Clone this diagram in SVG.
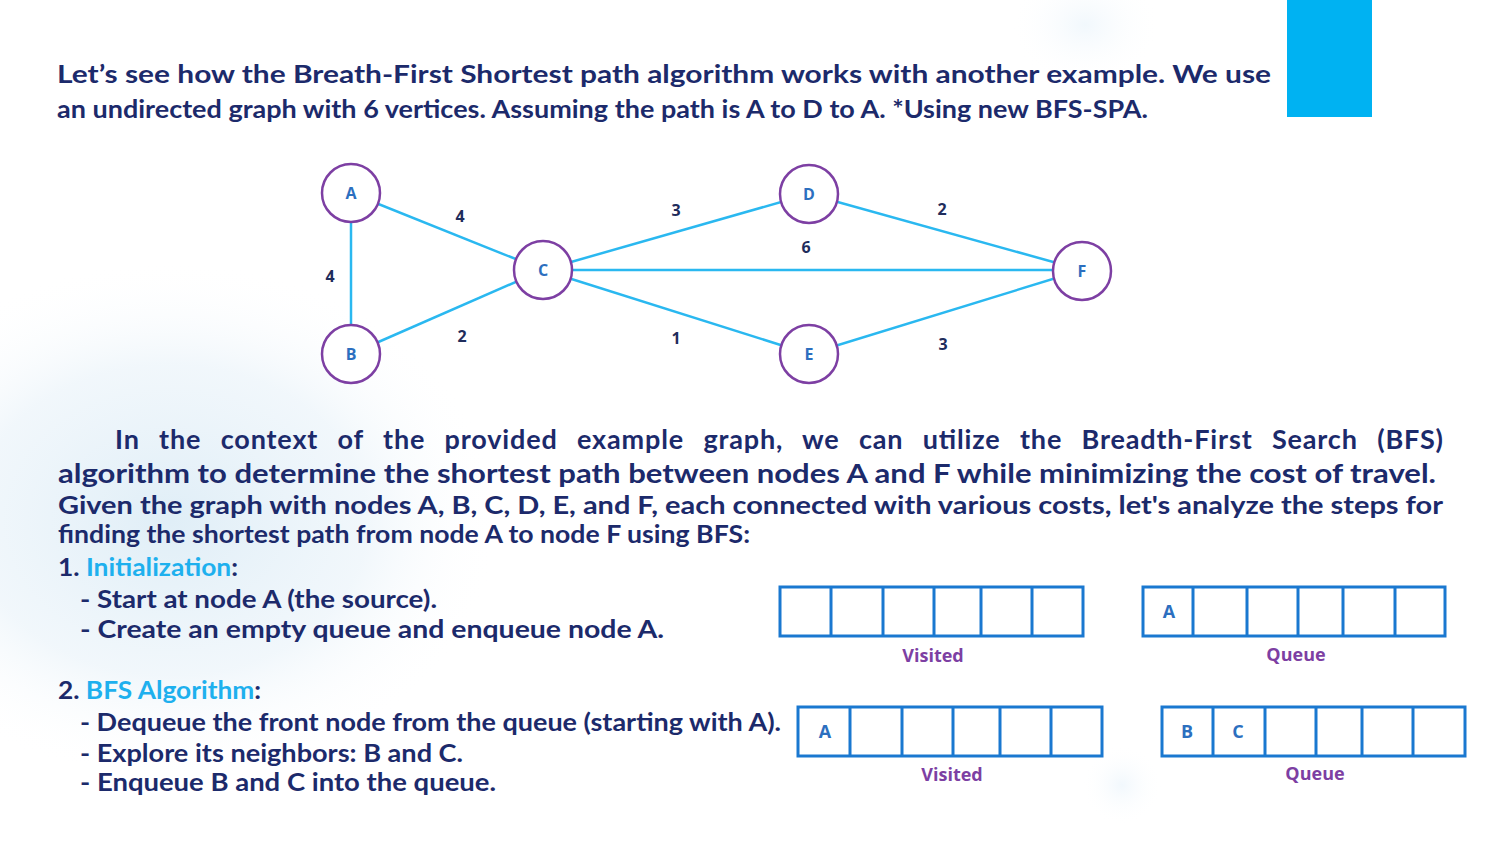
<svg xmlns="http://www.w3.org/2000/svg" width="1500" height="843" viewBox="0 0 1500 843">
  <defs>
    <radialGradient id="haze" cx="0.5" cy="0.5" r="0.5">
      <stop offset="0" stop-color="#dcecf6" stop-opacity="0.9"/>
      <stop offset="0.6" stop-color="#e8f2f9" stop-opacity="0.6"/>
      <stop offset="1" stop-color="#ffffff" stop-opacity="0"/>
    </radialGradient>
    <radialGradient id="bubble" cx="0.5" cy="0.5" r="0.5">
      <stop offset="0" stop-color="#eef6fc" stop-opacity="0.8"/>
      <stop offset="1" stop-color="#ffffff" stop-opacity="0"/>
    </radialGradient>
  </defs>
  <style>
    .txt { font-family: "Lato", "DejaVu Sans", sans-serif; font-weight: 700; fill: #1c2a6b; }
    .accent { fill: #1eb0ee; }
    .edge { stroke: #2ab8f0; stroke-width: 2.5; fill: none; }
    .node circle { fill: #ffffff; stroke: #7d3fa3; stroke-width: 2.5; }
    .node text { font-family: "Open Sans", "DejaVu Sans", sans-serif; font-weight: 700; font-size: 16px; fill: #2c6fbf; text-anchor: middle; }
    .elabel { font-family: "Open Sans", "DejaVu Sans", sans-serif; font-weight: 700; font-size: 16px; fill: #1f2d5c; text-anchor: middle; }
    .cell { fill: #ffffff; stroke: #1a78d0; stroke-width: 3; }
    .div { stroke: #1a78d0; stroke-width: 3; }
    .cellTxt { font-family: "Open Sans", "DejaVu Sans", sans-serif; font-weight: 700; font-size: 18px; fill: #2c6fbf; text-anchor: middle; }
    .cap { font-family: "Open Sans", "DejaVu Sans", sans-serif; font-weight: 700; font-size: 18px; fill: #7d3fa3; text-anchor: middle; }
  </style>

  <!-- background -->
  <rect width="1500" height="843" fill="#ffffff"/>
  <ellipse cx="170" cy="520" rx="330" ry="260" fill="url(#haze)"/>
  <ellipse cx="1085" cy="25" rx="75" ry="60" fill="url(#bubble)"/>
  <ellipse cx="1122" cy="785" rx="40" ry="40" fill="url(#bubble)"/>
  <rect x="1287" y="0" width="85" height="117" fill="#00b2f2"/>

  <!-- heading -->
  <g id="heading" class="txt" font-size="25">
    <text x="57" y="83" textLength="1214" lengthAdjust="spacingAndGlyphs">Let’s see how the Breath-First Shortest path algorithm works with another example. We use</text>
    <text x="57" y="118" textLength="1091" lengthAdjust="spacingAndGlyphs">an undirected graph with 6 vertices. Assuming the path is A to D to A. *Using new BFS-SPA.</text>
  </g>

  <!-- connectors -->
  <g id="edges">
    <line class="edge" x1="351" y1="193" x2="351" y2="354"/>
    <line class="edge" x1="351" y1="193" x2="543" y2="270"/>
    <line class="edge" x1="351" y1="354" x2="543" y2="270"/>
    <line class="edge" x1="543" y1="270" x2="809" y2="194"/>
    <line class="edge" x1="543" y1="270" x2="1082" y2="270"/>
    <line class="edge" x1="543" y1="270" x2="809" y2="354"/>
    <line class="edge" x1="809" y1="194" x2="1082" y2="270"/>
    <line class="edge" x1="809" y1="354" x2="1082" y2="270"/>
    <text class="elabel" x="460" y="222">4</text>
    <text class="elabel" x="330" y="282">4</text>
    <text class="elabel" x="462" y="342">2</text>
    <text class="elabel" x="676" y="216">3</text>
    <text class="elabel" x="806" y="253">6</text>
    <text class="elabel" x="676" y="344">1</text>
    <text class="elabel" x="942" y="215">2</text>
    <text class="elabel" x="943" y="350">3</text>
  </g>

  <!-- vertices -->
  <g id="node-A" class="node"><circle cx="351" cy="193" r="29"/><text x="351" y="199">A</text></g>
  <g id="node-B" class="node"><circle cx="351" cy="354" r="29"/><text x="351" y="360">B</text></g>
  <g id="node-C" class="node"><circle cx="543" cy="270" r="29"/><text x="543" y="276">C</text></g>
  <g id="node-D" class="node"><circle cx="809" cy="194" r="29"/><text x="809" y="200">D</text></g>
  <g id="node-E" class="node"><circle cx="809" cy="354" r="29"/><text x="809" y="360">E</text></g>
  <g id="node-F" class="node"><circle cx="1082" cy="271" r="29"/><text x="1082" y="277">F</text></g>

  <!-- explanation -->
  <g id="body" class="txt">
    <text x="115" y="449" font-size="27" textLength="1328" lengthAdjust="spacing" word-spacing="12">In the context of the provided example graph, we can utilize the Breadth-First Search (BFS)</text>
    <text x="58" y="483" font-size="27" textLength="1378" lengthAdjust="spacingAndGlyphs">algorithm to determine the shortest path between nodes A and F while minimizing the cost of travel.</text>
    <text x="58" y="514" font-size="24" textLength="1385" lengthAdjust="spacingAndGlyphs">Given the graph with nodes A, B, C, D, E, and F, each connected with various costs, let's analyze the steps for</text>
    <text x="58" y="543" font-size="24" textLength="692" lengthAdjust="spacingAndGlyphs">finding the shortest path from node A to node F using BFS:</text>

    <text x="58" y="576" font-size="24" textLength="180" lengthAdjust="spacingAndGlyphs">1. <tspan class="accent">Initialization</tspan>:</text>
    <text x="80" y="608" font-size="24" textLength="357" lengthAdjust="spacingAndGlyphs">- Start at node A (the source).</text>
    <text x="80" y="638" font-size="24" textLength="584" lengthAdjust="spacingAndGlyphs">- Create an empty queue and enqueue node A.</text>

    <text x="58" y="699" font-size="24" textLength="203" lengthAdjust="spacingAndGlyphs">2. <tspan class="accent">BFS Algorithm</tspan>:</text>
    <text x="80" y="731" font-size="24" textLength="701" lengthAdjust="spacingAndGlyphs">- Dequeue the front node from the queue (starting with A).</text>
    <text x="80" y="762" font-size="24" textLength="383" lengthAdjust="spacingAndGlyphs">- Explore its neighbors: B and C.</text>
    <text x="80" y="791" font-size="24" textLength="416" lengthAdjust="spacingAndGlyphs">- Enqueue B and C into the queue.</text>
  </g>

  <!-- step 1: visited list -->
  <g id="visited-1">
    <rect class="cell" x="780" y="587" width="303" height="49"/>
    <path class="div" d="M831 587V636M883 587V636M934 587V636M981 587V636M1032 587V636"/>
    <text class="cap" x="933" y="662">Visited</text>
  </g>
  <!-- step 1: queue -->
  <g id="queue-1">
    <rect class="cell" x="1143" y="587" width="302" height="49"/>
    <path class="div" d="M1193 587V636M1247 587V636M1298 587V636M1343 587V636M1395 587V636"/>
    <text class="cellTxt" x="1169" y="618">A</text>
    <text class="cap" x="1296" y="661">Queue</text>
  </g>
  <!-- step 2: visited list -->
  <g id="visited-2">
    <rect class="cell" x="798" y="707" width="304" height="49"/>
    <path class="div" d="M850 707V756M902 707V756M953 707V756M1000 707V756M1051 707V756"/>
    <text class="cellTxt" x="825" y="738">A</text>
    <text class="cap" x="952" y="781">Visited</text>
  </g>
  <!-- step 2: queue -->
  <g id="queue-2">
    <rect class="cell" x="1162" y="707" width="303" height="49"/>
    <path class="div" d="M1213 707V756M1265 707V756M1316 707V756M1362 707V756M1413 707V756"/>
    <text class="cellTxt" x="1187" y="738">B</text>
    <text class="cellTxt" x="1238" y="738">C</text>
    <text class="cap" x="1315" y="780">Queue</text>
  </g>
</svg>
